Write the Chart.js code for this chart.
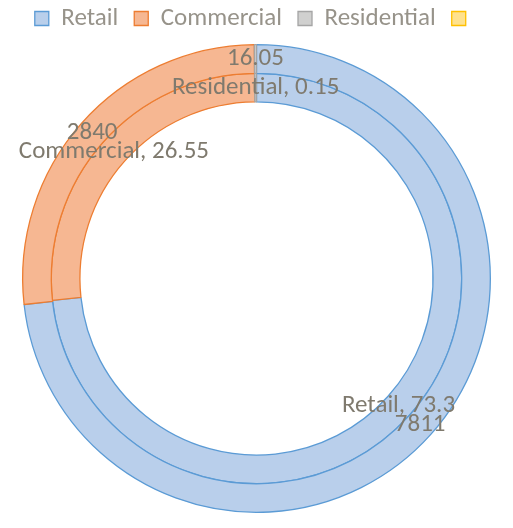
<!DOCTYPE html>
<html>
<head>
<meta charset="utf-8">
<script src="https://cdn.jsdelivr.net/npm/chart.js@4"></script>
<style>
  html, body { margin: 0; padding: 0; background: #ffffff; }
  #wrap { width: 513px; height: 528px; }
</style>
</head>
<body>
<div id="wrap"><canvas id="donut"></canvas></div>
<script>
// categories (4th legend entry has no name in the source)
const categories = ['Retail', 'Commercial', 'Residential', ''];
// outer ring: raw values
const outerValues = [7811, 2840, 16.05, 0];
// inner ring: percentages
const innerValues = [73.3, 26.55, 0.15, 0];

const fillColors = ['#b9cfeb', '#f6b792', '#d0d0cf', '#ffe28e'];
const lineColors = ['#5b9bd5', '#ed7d31', '#a5a5a5', '#ffc000'];
const labelColor = '#7f7a6e';
const fontFamily = 'Carlito, Lato, "Open Sans", sans-serif';

// draws the data labels at the middle of each arc
const arcLabels = {
    id: 'arcLabels',
    afterDatasetsDraw(chart) {
        const ctx = chart.ctx;
        ctx.save();
        ctx.font = '25px ' + fontFamily;
        ctx.fillStyle = labelColor;
        ctx.textAlign = 'center';
        ctx.textBaseline = 'middle';
        chart.data.datasets.forEach((ds, di) => {
            const meta = chart.getDatasetMeta(di);
            meta.data.forEach((arc, i) => {
                const v = ds.data[i];
                if (!v) return;
                const p = arc.tooltipPosition();
                const text = di === 0 ? String(v) : categories[i] + ', ' + v;
                ctx.fillText(text, p.x, p.y);
            });
        });
        ctx.restore();
    }
};

// a little more room under the legend
const legendGap = {
    id: 'legendGap',
    beforeInit(chart) {
        const fit = chart.legend.fit;
        chart.legend.fit = function () {
            fit.call(this);
            this.height += 3;
        };
    }
};

new Chart(document.getElementById('donut'), {
    type: 'doughnut',
    data: {
        labels: categories,
        datasets: [{
            data: outerValues,
            backgroundColor: fillColors,
            borderColor: lineColors,
            borderWidth: 1.3
        }, {
            data: innerValues,
            backgroundColor: fillColors,
            borderColor: lineColors,
            borderWidth: 1.3
        }]
    },
    options: {
        responsive: true,
        maintainAspectRatio: false,
        animation: false,
        cutout: '75.5%',
        layout: {
            padding: { top: -10, left: 0, right: 0, bottom: 15 }
        },
        plugins: {
            legend: {
                position: 'top',
                labels: {
                    font: { family: fontFamily, size: 25 },
                    color: '#97938a',
                    boxWidth: 14,
                    boxHeight: 14,
                    padding: 16
                }
            },
            tooltip: { enabled: false }
        }
    },
    plugins: [arcLabels, legendGap]
});
</script>
</body>
</html>
